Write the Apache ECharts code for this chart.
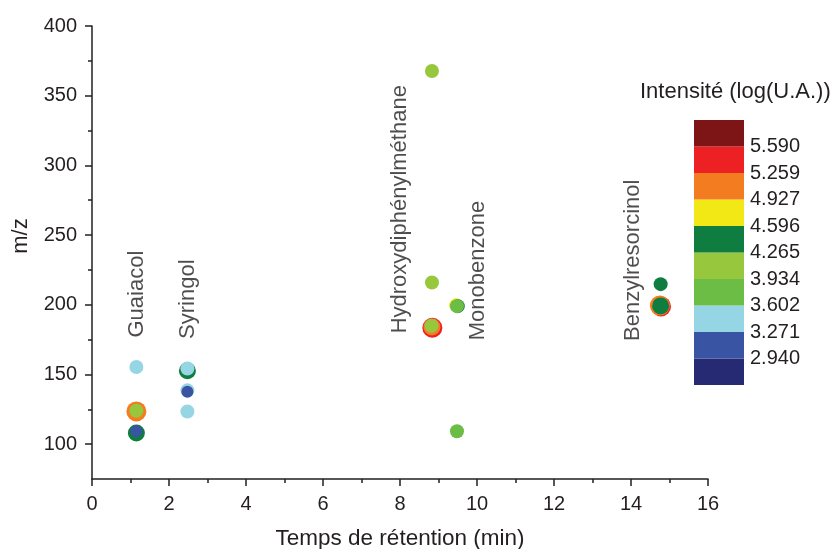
<!DOCTYPE html>
<html>
<head>
<meta charset="utf-8">
<script src="https://cdn.jsdelivr.net/npm/echarts@6/dist/echarts.min.js"></script>
<style>html,body{margin:0;padding:0;background:#fff}#c{width:835px;height:549px}</style>
</head>
<body>
<div id="c"></div>
<script>
// ---- data ----
const binBounds = ['2.940','3.271','3.602','3.934','4.265','4.596','4.927','5.259','5.590'];
const binColors = ['#262A73','#3A54A4','#96D5E4','#6BBD45','#97C73D','#0E7D3F','#F1E816','#F47C20','#ED2024','#7D1416'];

// Compound annotations
const compoundNames = ['Guaiacol','Syringol','Hydroxydiphénylméthane','Monobenzone','Benzylresorcinol'];
const compoundRT = [1.16, 2.49, 7.99, 10.02, 14.04];
const compoundMz = [176.5, 175.5, 179.5, 174.5, 174.0];

// Points, grouped by drawing layer (bottom -> top)
const rtLayerA = [1.153, 8.84, 14.78, 14.75];
const mzLayerA = [123.5, 183.5, 198.8, 199.4];
const intLayerA = [5.05, 5.40, 5.40, 5.05];

const rtLayerB = [1.153, 2.478, 8.83, 14.77];
const mzLayerB = [108.0, 152.6, 184.0, 199.2];
const intLayerB = [4.40, 4.40, 5.05, 4.40];

const rtLayerC = [1.153, 1.153, 2.478, 2.478, 2.478, 8.83, 8.83, 8.82, 9.46, 9.50, 9.48, 9.48, 14.77];
const mzLayerC = [155.3, 124.0, 154.3, 138.6, 123.4, 367.7, 216.0, 185.0, 199.6, 199.0, 199.0, 109.3, 214.8];
const intLayerC = [3.45, 4.10, 3.45, 3.45, 3.40, 4.10, 4.05, 4.10, 4.70, 4.40, 3.75, 3.80, 4.45];

const rtLayerD = [1.153, 2.478];
const mzLayerD = [109.4, 137.6];
const intLayerD = [3.10, 3.10];

const xMajorTicks = [0,2,4,6,8,10,12,14,16];
const yMajorTicks = [100,150,200,250,300,350,400];
const yMinorTicks = [125,175,225,275,325,375];

// ---- chart ----
const FONT = "'Liberation Sans', Arial, sans-serif";
const INK = '#231F20';
const zip = (a, b, c) => a.map((v, i) => [v, b[i], c[i]]);

const pieces = binColors.map((col, i) => {
  const p = { color: col };
  if (i > 0) p.gte = parseFloat(binBounds[i - 1]);
  if (i < binBounds.length) p.lt = parseFloat(binBounds[i]);
  return p;
});

const scatterLayer = (data, size) => ({
  type: 'scatter', xAxisIndex: 0, yAxisIndex: 0, data, symbolSize: size,
  itemStyle: { opacity: 1 }, emphasis: { disabled: true }, animation: false
});

const colorbarSeries = binColors.map((col) => ({
  type: 'bar', xAxisIndex: 1, yAxisIndex: 2, stack: 'cb', data: [1],
  barWidth: '100%', itemStyle: { color: col }, silent: true, animation: false
}));

const option = {
  backgroundColor: '#fff',
  textStyle: { fontFamily: FONT, color: INK },
  title: {
    text: 'Intensité (log(U.A.))', left: 640, top: 81, padding: 0,
    textStyle: { fontFamily: FONT, fontSize: 22, fontWeight: 'normal', color: INK }
  },
  grid: [
    { left: 92, right: 127, top: 26, bottom: 70, outerBoundsMode: 'none', containLabel: false },
    { left: 694, top: 120, width: 50, height: 265, outerBoundsMode: 'none', containLabel: false }
  ],
  xAxis: [
    {
      type: 'value', gridIndex: 0, min: 0, max: 16, interval: 2,
      name: 'Temps de rétention (min)', nameLocation: 'middle', nameGap: 48,
      nameTextStyle: { fontSize: 22.5, color: INK, fontFamily: FONT },
      axisLine: { show: true, lineStyle: { color: INK, width: 1.5 } },
      axisTick: { show: true, inside: false, length: 7, lineStyle: { color: INK, width: 1.5 } },
      minorTick: { show: true, splitNumber: 2, length: 4, lineStyle: { color: INK, width: 1.5 } },
      axisLabel: { fontSize: 20, color: INK, margin: 15, fontFamily: FONT,
        customValues: xMajorTicks },
      splitLine: { show: false }, minorSplitLine: { show: false }
    },
    { type: 'category', gridIndex: 1, data: ['c'], show: false }
  ],
  yAxis: [
    {
      type: 'value', gridIndex: 0, min: 75, max: 400, position: 'left',
      axisLine: { show: true, lineStyle: { color: INK, width: 1.5 } },
      axisTick: { show: true, inside: false, length: 7, customValues: yMajorTicks,
        lineStyle: { color: INK, width: 1.5 } },
      axisLabel: { fontSize: 20, color: INK, margin: 15, fontFamily: FONT, customValues: yMajorTicks },
      splitLine: { show: false }
    },
    {
      type: 'value', gridIndex: 0, min: 75, max: 400, position: 'left',
      axisLine: { show: false },
      axisTick: { show: true, inside: false, length: 4, customValues: yMinorTicks,
        lineStyle: { color: INK, width: 1.5 } },
      axisLabel: { show: false },
      splitLine: { show: false }
    },
    {
      type: 'value', gridIndex: 1, min: 0, max: 10, interval: 1, position: 'right',
      axisLine: { show: false }, axisTick: { show: false }, splitLine: { show: false },
      axisLabel: {
        fontSize: 20, color: INK, margin: 6, fontFamily: FONT,
        formatter: (v) => (v >= 1 && v <= binBounds.length) ? binBounds[v - 1] : ''
      }
    }
  ],
  visualMap: {
    type: 'piecewise', show: false, dimension: 2, seriesIndex: [0, 1, 2, 3], pieces
  },
  graphic: [
    {
      type: 'text', x: 21, y: 236, rotation: Math.PI / 2,
      style: { text: 'm/z', fontSize: 22, fontFamily: FONT, fill: INK, align: 'center', verticalAlign: 'middle' }
    }
  ],
  series: [
    scatterLayer(zip(rtLayerA, mzLayerA, intLayerA), 20),
    scatterLayer(zip(rtLayerB, mzLayerB, intLayerB), 17),
    scatterLayer(zip(rtLayerC, mzLayerC, intLayerC), 14),
    scatterLayer(zip(rtLayerD, mzLayerD, intLayerD), 12),
    {
      type: 'scatter', xAxisIndex: 0, yAxisIndex: 0, symbolSize: 0, silent: true, animation: false,
      itemStyle: { color: 'rgba(0,0,0,0)' },
      data: compoundNames.map((n, i) => ({ value: [compoundRT[i], compoundMz[i]], name: n })),
      label: {
        show: true, position: 'inside', rotate: 90, align: 'left', verticalAlign: 'middle',
        formatter: (p) => p.name, fontSize: 22, color: INK, fontFamily: FONT
      }
    },
    ...colorbarSeries
  ]
};

const chart = echarts.init(document.getElementById('c'), null, { renderer: 'canvas' });
chart.setOption(option);
</script>
</body>
</html>
